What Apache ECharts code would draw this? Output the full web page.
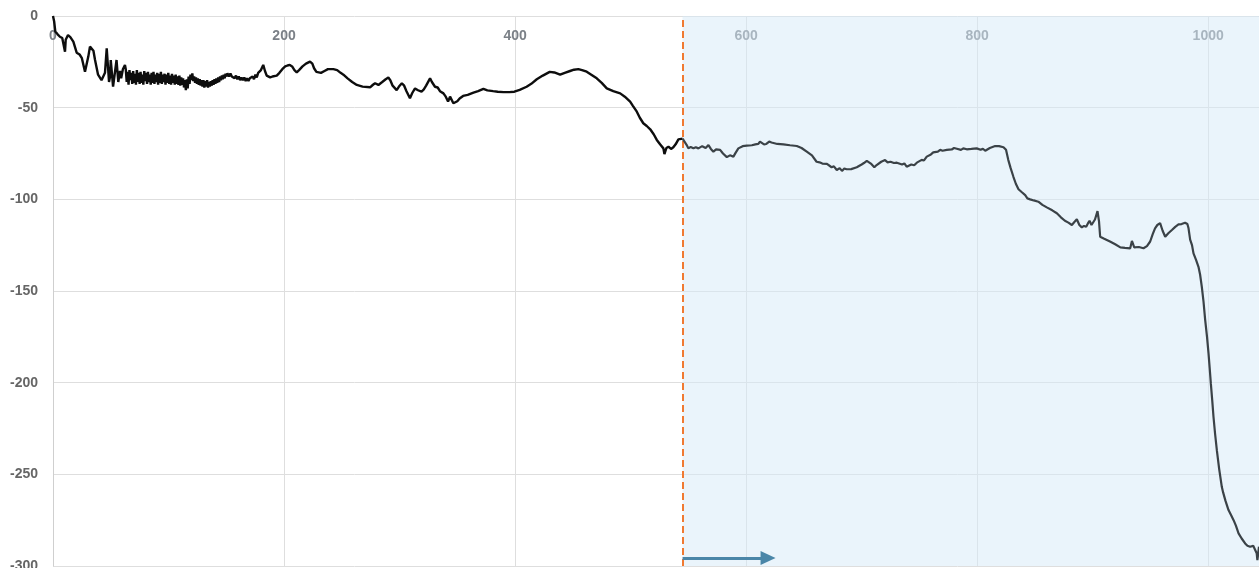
<!DOCTYPE html>
<html>
<head>
<meta charset="utf-8">
<script src="https://cdn.jsdelivr.net/npm/echarts@6/dist/echarts.min.js"></script>
<style>
html,body{margin:0;padding:0;background:#fff;}
#chart{width:1259px;height:568px;}
</style>
</head>
<body>
<div id="chart"></div>
<script>
// ---- data ----
const xTicks = [0, 200, 400, 600, 800, 1000];
const yTicks = [0, -50, -100, -150, -200, -250, -300];
const xMax = 1044;
const splitX = 545;
const arrowFromX = 545, arrowToX = 619, arrowY = -295.7;

// [x, y] points, left of the dashed line
const seg1 = [[0,0],[1,-3],[2,-8.5],[4,-10],[6,-11.3],[8,-12],[9.5,-13],[10.4,-19.5],[11,-13],[13,-10.4],[15,-11.5],[17.6,-14],[20.5,-20],[23,-21],[25,-23],[27.7,-30.4],[30.6,-22],[32,-16.7],[33.5,-16],[35,-19],[36.4,-24],[39,-32],[42,-35],[45,-31],[46.5,-17.6],[48.5,-36],[49.4,-33],[50,-24],[52,-38.5],[55,-24],[56.5,-36],[58,-30],[59,-34],[60.5,-29],[62.3,-26.7],
[63,-29],[63.8,-36],[64.6,-30.5],[65.4,-37.5],[66.2,-29.5],[67,-35],[67.8,-31],[68.6,-37],[69.4,-30],[70.2,-36.5],[71,-31.5],[71.8,-37.5],[72.6,-29.5],[73.4,-36],[74.2,-31],[75,-37],[75.8,-30.5],[76.6,-36.5],[77.4,-32],[78.2,-37.5],[79,-30],[79.8,-35.5],[80.6,-31],[81.4,-37],[82.2,-30.5],[83,-36],[83.8,-32],[84.6,-37.5],[85.4,-31],[86.2,-36.5],[87,-30.5],[87.8,-37],[88.6,-32],[89.4,-36],[90.2,-31],[91,-37.5],[91.8,-31.5],[92.6,-36.5],[93.4,-30.5],[94.2,-37],[95,-32],[95.8,-36],[96.6,-31.5],[97.4,-37.5],[98.2,-32],[99,-36.5],[99.8,-31],[100.6,-37],[101.4,-32.5],[102.2,-37.5],[103,-31.5],[103.8,-36.5],[104.6,-32.5],[105.4,-37.5],[106.2,-32],[107,-37],[107.8,-33],[108.6,-37.5],[109.4,-32.5],[110.2,-38],[111,-33.5],[111.8,-37.5],[112.6,-34],[113.4,-39],[114.2,-35],[115,-40.5],[115.8,-34.5],[116.6,-39.5],[117.4,-33],[118.2,-37],[119,-32],[119.8,-35],[120.6,-31.3],[121.4,-35.5],[122.2,-33],[123,-36.5],[123.8,-33.5],[124.6,-37],[125.4,-34],[126.2,-37.5],[127,-34.5],[127.8,-38],[128.6,-35],[129.4,-38.5],[130.2,-35],[131,-39],[131.8,-35.5],[132.6,-38.5],[133.4,-35],[134.2,-39],[135,-36],[135.8,-38.5],[136.6,-35.5],[137.4,-38],[138.2,-35],[139,-37.5],[139.8,-34.5],[140.6,-37],[141.4,-34],[142.2,-36.5],[143,-33.5],[143.8,-36],[144.6,-33],[145.4,-35],[146.2,-32.5],[147,-34.5],[147.8,-32],[148.6,-34],[149.4,-31.5],[150.2,-33],[151,-31.3],
[152.4,-33],[153.6,-31.3],[154.8,-33],[156,-32],[157.2,-34],[158.4,-32.5],[159.6,-34.5],[160.8,-33],[162,-35],[163.2,-33.5],[164.4,-35],[165.6,-33.5],[166.8,-35.5],[168,-34],[169.2,-35.5],[170.4,-34],[171.6,-35],[172.8,-33],[174,-34.5],[175.2,-32],[176.4,-33.5],[177.6,-31],[178.8,-32],[180,-29.5],[181.2,-30],[182,-26.7],[183.5,-30],[185,-32.5],[186.4,-33],[188,-33.5],[190,-33],[191.5,-33.5],[193.7,-32.5],[196,-31],[198.5,-29],[201,-27.5],[203,-27],[205,-26.7],[207,-27.5],[209,-29.5],[211,-30.7],[213,-29.5],[216,-27.5],[219,-26],[222.5,-24.9],[224.5,-26],[226,-28.5],[228,-30.5],[229.7,-31.3],[232,-31],[235,-30],[238,-29],[242.7,-29],[246,-29.5],[249,-31],[251.4,-32],[255,-34],[259,-36],[263,-37.6],[268,-38.5],[274.5,-38.9],[277,-37.5],[278.8,-36.7],[280,-37],[281.7,-37.6],[285,-36],[288,-34.5],[290.3,-33.6],[292,-35],[294,-38],[297.5,-40.4],[299.5,-38.5],[302,-36.7],[304,-38],[306,-41],[309,-44.9],[311,-42],[313.4,-39.5],[316,-40.5],[319,-41.3],[321,-40],[323,-38],[326.4,-34],[328,-36],[330.7,-38.6],[333,-39],[335,-41],[338,-42.2],[340,-44],[342,-46.7],[343.7,-44],[345,-45],[346.6,-47.6],[348,-48.6],[350,-46.5],[352,-45],[355,-43.6],[359,-43],[364,-41.8],[368,-41],[372.6,-39.8],[376,-40.6],[381,-41],[385,-41.3],[390,-41.5],[395,-41.5],[399.4,-41.3],[404,-40.3],[410,-38.6],[414,-37],[418.8,-34.5],[424,-32.5],[430,-30.5],[434,-30.8],[439,-32],[443,-31],[447.6,-30],[451,-29.3],[454.8,-29],[458,-29.5],[462,-30.4],[466,-32],[470.7,-34],[475,-36.5],[479.4,-39.5],[485,-41],[491,-42.2],[495,-44],[499.6,-46.7],[502,-49],[505.4,-52.2],[508,-55.5],[511,-58.5],[514,-60],[517,-61.8],[520,-64.5],[522.7,-67.6],[525.5,-70],[528.4,-72.2],[529.3,-75.3],[531,-72],[532.8,-71.3],[535,-72.5],[537,-71.6],[539,-70],[541.4,-67.3],[543,-67.5],[545,-66.9]];

// [x, y] points, right of the dashed line
const seg2 = [[545,-66.9],[548.6,-70.4],[550,-72.2],[552,-71.5],[554.4,-72.2],[556.5,-71.6],[558.7,-72.2],[562,-71],[565,-72],[567.4,-70.4],[569.5,-72.5],[571.7,-74],[574,-72.8],[577.5,-73],[580,-75],[583.3,-77],[586,-76],[589,-76.7],[591,-74.5],[593.3,-72.2],[597,-71],[600.6,-70.7],[605,-70.5],[608,-70],[610.6,-69.8],[612,-68.5],[613.6,-68],[615.5,-70],[617.5,-69.8],[620,-68.5],[622,-69],[627,-69.8],[632.3,-70],[638,-70.5],[643.9,-70.9],[648,-72],[652.5,-74],[657,-76],[661,-79.5],[663.5,-79.8],[666,-80.5],[670,-80.7],[674,-82.5],[676,-82],[678.5,-84],[681,-83],[683,-84.5],[685,-83.2],[687,-83.6],[691,-83.5],[695.8,-82.5],[700,-81],[702,-80.2],[704.5,-79],[706,-80],[708,-80.5],[711,-82.5],[713,-81.3],[717,-79.5],[720.3,-78.6],[722.5,-79.8],[725,-79.5],[728,-80.2],[730.5,-80],[735,-81],[737,-80.4],[739,-82.2],[743,-81],[745.5,-81.4],[747.8,-80],[752,-78.5],[754,-78.8],[756.4,-76.7],[760,-75.5],[762,-74.4],[766,-74],[768,-73],[770,-73.5],[773.7,-73],[778,-72.8],[780,-72],[782.4,-72.4],[786,-73],[788,-72.2],[791,-72.7],[795,-72.5],[799.6,-72.2],[803,-73],[805,-72.4],[807,-73.5],[811,-72],[815.6,-70.9],[819,-71],[822.8,-71.6],[825,-73],[827,-78.6],[829,-83],[831.4,-87.7],[833.5,-91.5],[835.8,-94.5],[838.5,-96],[841.6,-97.7],[843.5,-99.5],[845.9,-100],[849,-100.6],[853,-101.3],[856.5,-103],[860.3,-104.4],[865,-106],[869,-107.6],[872.5,-109.8],[876,-111.7],[879,-112.7],[882,-114],[884,-112.5],[886.3,-110.9],[888.5,-114],[890.6,-115.3],[892.5,-114.5],[894.4,-115],[896,-113],[897.3,-111.7],[899,-114],[900.2,-114.9],[902,-111],[904.2,-106.4],[905.5,-112],[906.5,-120.4],[910,-121.5],[915,-123],[919.5,-124.5],[924,-126.2],[928,-126.5],[932.5,-126.7],[934,-122.7],[936,-126.2],[940,-126],[944,-126.7],[947,-125.5],[949.8,-123],[952,-119],[954,-115.8],[956,-114],[958.4,-113],[960.5,-117],[962.8,-120.4],[965.5,-118.5],[968.6,-116.7],[971.5,-115],[974.3,-113.7],[977,-113.5],[980,-112.8],[982,-113.5],[983,-115.8],[984.4,-122],[986,-125],[987.3,-129.5],[989.5,-133],[991.6,-136.8],[993,-141],[994.5,-147.7],[996,-156],[997.4,-165.8],[999,-175],[1000.3,-184],[1001.3,-192],[1002.3,-200.4],[1003.5,-209.5],[1004.6,-218.6],[1006,-228],[1007.5,-236.8],[1009.5,-247],[1011.8,-256.8],[1013,-260],[1015,-264.5],[1017.6,-269.5],[1020,-272.5],[1022,-275],[1024,-278],[1026.3,-282.2],[1029,-285],[1032,-287.7],[1034,-289],[1036.3,-289.5],[1039,-289],[1040.5,-291],[1042,-293],[1042.6,-296.8],[1044,-289.5]];

const chart = echarts.init(document.getElementById('chart'), null, {renderer: 'canvas'});
chart.setOption({
  animation: false,
  backgroundColor: '#ffffff',
  grid: {left: 53, right: 0, top: 16, bottom: 2, containLabel: false, outerBoundsMode: 'none'},
  xAxis: {
    type: 'value', position: 'top',
    min: xTicks[0], max: xMax, interval: xTicks[1] - xTicks[0],
    axisLine: {show: false}, axisTick: {show: false},
    axisLabel: {inside: true, margin: 13, color: '#7b8087', fontWeight: 'bold', fontSize: 14,
      fontFamily: 'Liberation Sans, Arial, sans-serif',
      formatter: v => xTicks.includes(v) ? String(v) : ''},
    splitLine: {show: true, lineStyle: {color: '#dedede', width: 1}}
  },
  yAxis: {
    type: 'value',
    min: yTicks[yTicks.length - 1], max: yTicks[0], interval: 50,
    axisLine: {show: true, lineStyle: {color: '#cfcfcf'}}, axisTick: {show: false},
    axisLabel: {margin: 15, color: '#666', fontWeight: 'bold', fontSize: 14,
      fontFamily: 'Liberation Sans, Arial, sans-serif'},
    splitLine: {show: true, lineStyle: {color: '#dedede', width: 1}}
  },
  series: [
    {
      type: 'line', z: 1, silent: true, symbol: 'none', data: [],
      markArea: {
        silent: true,
        itemStyle: {color: '#d6eaf8', opacity: 0.5},
        data: [[{xAxis: splitX}, {xAxis: xMax}]]
      },
      markLine: {
        silent: true, symbol: 'none', label: {show: false},
        lineStyle: {color: '#f07a32', width: 2, type: [7, 4]},
        data: [{xAxis: splitX}]
      }
    },
    {
      type: 'line', z: 5, symbol: 'none', showSymbol: false, silent: true,
      data: seg1,
      lineStyle: {color: '#0d0d0d', width: 2.4}
    },
    {
      type: 'line', z: 5, symbol: 'none', showSymbol: false, silent: true,
      data: seg2,
      lineStyle: {color: '#3b4247', width: 2.2}
    },
    {
      type: 'line', z: 6, silent: true, symbol: 'none', data: [],
      markLine: {
        silent: true, symbol: ['none', 'triangle'], symbolSize: [14, 15],
        label: {show: false},
        itemStyle: {color: '#4a86a8'},
        lineStyle: {color: '#4a86a8', width: 3, type: 'solid'},
        data: [[{coord: [arrowFromX, arrowY]}, {coord: [arrowToX, arrowY]}]]
      }
    }
  ]
});
</script>
</body>
</html>
